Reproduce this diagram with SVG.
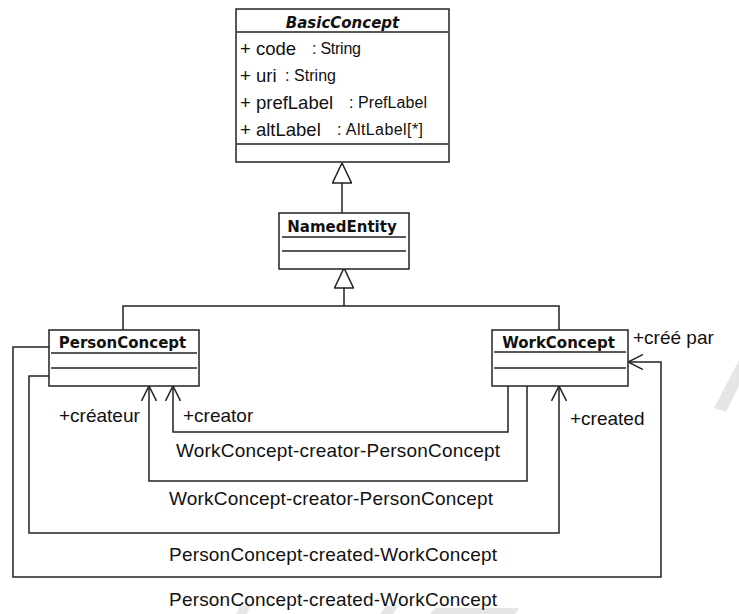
<svg xmlns="http://www.w3.org/2000/svg" width="739" height="614" viewBox="0 0 739 614">
<style>
.box{fill:#fff;stroke:#222;stroke-width:1.5}
.sep{stroke:#222;stroke-width:1.5}
.title{font-family:"DejaVu Sans",Verdana,sans-serif;font-weight:bold;font-size:15px;fill:#111;text-anchor:middle}
.attr{font-family:"Liberation Sans",Arial,sans-serif;font-size:18.5px;fill:#111}
.type{font-family:"Liberation Sans",Arial,sans-serif;font-size:16px;fill:#111}
.lbl{font-family:"Liberation Sans",Arial,sans-serif;font-size:19px;fill:#111}
.edge{fill:none;stroke:#222;stroke-width:1.5}
.gen{marker-end:url(#tri)}
.assoc{marker-end:url(#open)}
.wm{fill:#e6e6e6}
</style>
<defs>
<marker id="tri" viewBox="0 0 21 20" markerWidth="21" markerHeight="20" refX="20.5" refY="10" orient="auto" markerUnits="userSpaceOnUse">
<path d="M0.5,0.5 L20.5,10 L0.5,19.5 Z" fill="#fff" stroke="#222" stroke-width="1.5"/>
</marker>
<marker id="open" viewBox="0 0 16 16" markerWidth="16" markerHeight="16" refX="15" refY="8" orient="auto" markerUnits="userSpaceOnUse">
<path d="M0,0.5 L15,8 L0,15.5" fill="none" stroke="#222" stroke-width="1.5"/>
</marker>
</defs>
<rect width="739" height="614" fill="#fff"/>
<g id="watermark">
<polygon class="wm" points="714,408 739,360 739,386 726,412"/>
<polygon class="wm" points="380,614 386,606 398,606 393,614"/>
<polygon class="wm" points="430,614 435,608 519,608 515,614"/>
<polygon class="wm" points="236,614 240,606 250,606 247,614"/>
</g>
<g id="connectors">
<path class="edge gen" d="M342,213 V163"/>
<path class="edge gen" d="M344,306 V268"/>
<path class="edge" d="M123,330 V306 H559 V330"/>
<path class="edge assoc" d="M508,386 V432 H173 V386"/>
<path class="edge assoc" d="M527,386 V481 H149 V386"/>
<path class="edge assoc" d="M49,376 H29 V533 H559 V386"/>
<path class="edge assoc" d="M49,347 H13 V577 H661 V362 H628"/>
<text class="lbl" x="183" y="422">+creator</text>
<text class="lbl" x="59" y="422">+créateur</text>
<text class="lbl" x="570" y="425">+created</text>
<text class="lbl" x="633" y="344">+créé par</text>
<text class="lbl" x="176" y="457" textLength="324">WorkConcept-creator-PersonConcept</text>
<text class="lbl" x="169" y="505" textLength="324">WorkConcept-creator-PersonConcept</text>
<text class="lbl" x="169" y="561" textLength="328">PersonConcept-created-WorkConcept</text>
<text class="lbl" x="169" y="606" textLength="328">PersonConcept-created-WorkConcept</text>
</g>
<g id="BasicConcept">
<rect class="box" x="236" y="9" width="213" height="153"/>
<text class="title" x="342.5" y="28" font-style="italic">BasicConcept</text>
<line class="sep" x1="237" y1="32" x2="448" y2="32"/>
<text class="attr" x="240" y="55">+ code</text><text class="type" x="312" y="54" textLength="49">: String</text>
<text class="attr" x="240" y="82">+ uri</text><text class="type" x="285" y="81" textLength="51">: String</text>
<text class="attr" x="240" y="109">+ prefLabel</text><text class="type" x="349" y="108" textLength="78">: PrefLabel</text>
<text class="attr" x="240" y="136">+ altLabel</text><text class="type" x="337" y="135" textLength="86">: AltLabel[*]</text>
<line class="sep" x1="237" y1="144" x2="448" y2="144"/>
</g>
<g id="NamedEntity">
<rect class="box" x="279" y="213" width="130" height="56"/>
<text class="title" x="342" y="232">NamedEntity</text>
<line class="sep" x1="282" y1="237" x2="406" y2="237"/>
<line class="sep" x1="282" y1="251" x2="406" y2="251"/>
</g>
<g id="PersonConcept">
<rect class="box" x="49" y="330" width="150" height="56"/>
<text class="title" x="122.5" y="348">PersonConcept</text>
<line class="sep" x1="51" y1="353" x2="197" y2="353"/>
<line class="sep" x1="51" y1="368" x2="197" y2="368"/>
</g>
<g id="WorkConcept">
<rect class="box" x="492" y="330" width="136" height="56"/>
<text class="title" x="558.5" y="348">WorkConcept</text>
<line class="sep" x1="494" y1="352" x2="626" y2="352"/>
<line class="sep" x1="494" y1="368" x2="626" y2="368"/>
</g>
</svg>
